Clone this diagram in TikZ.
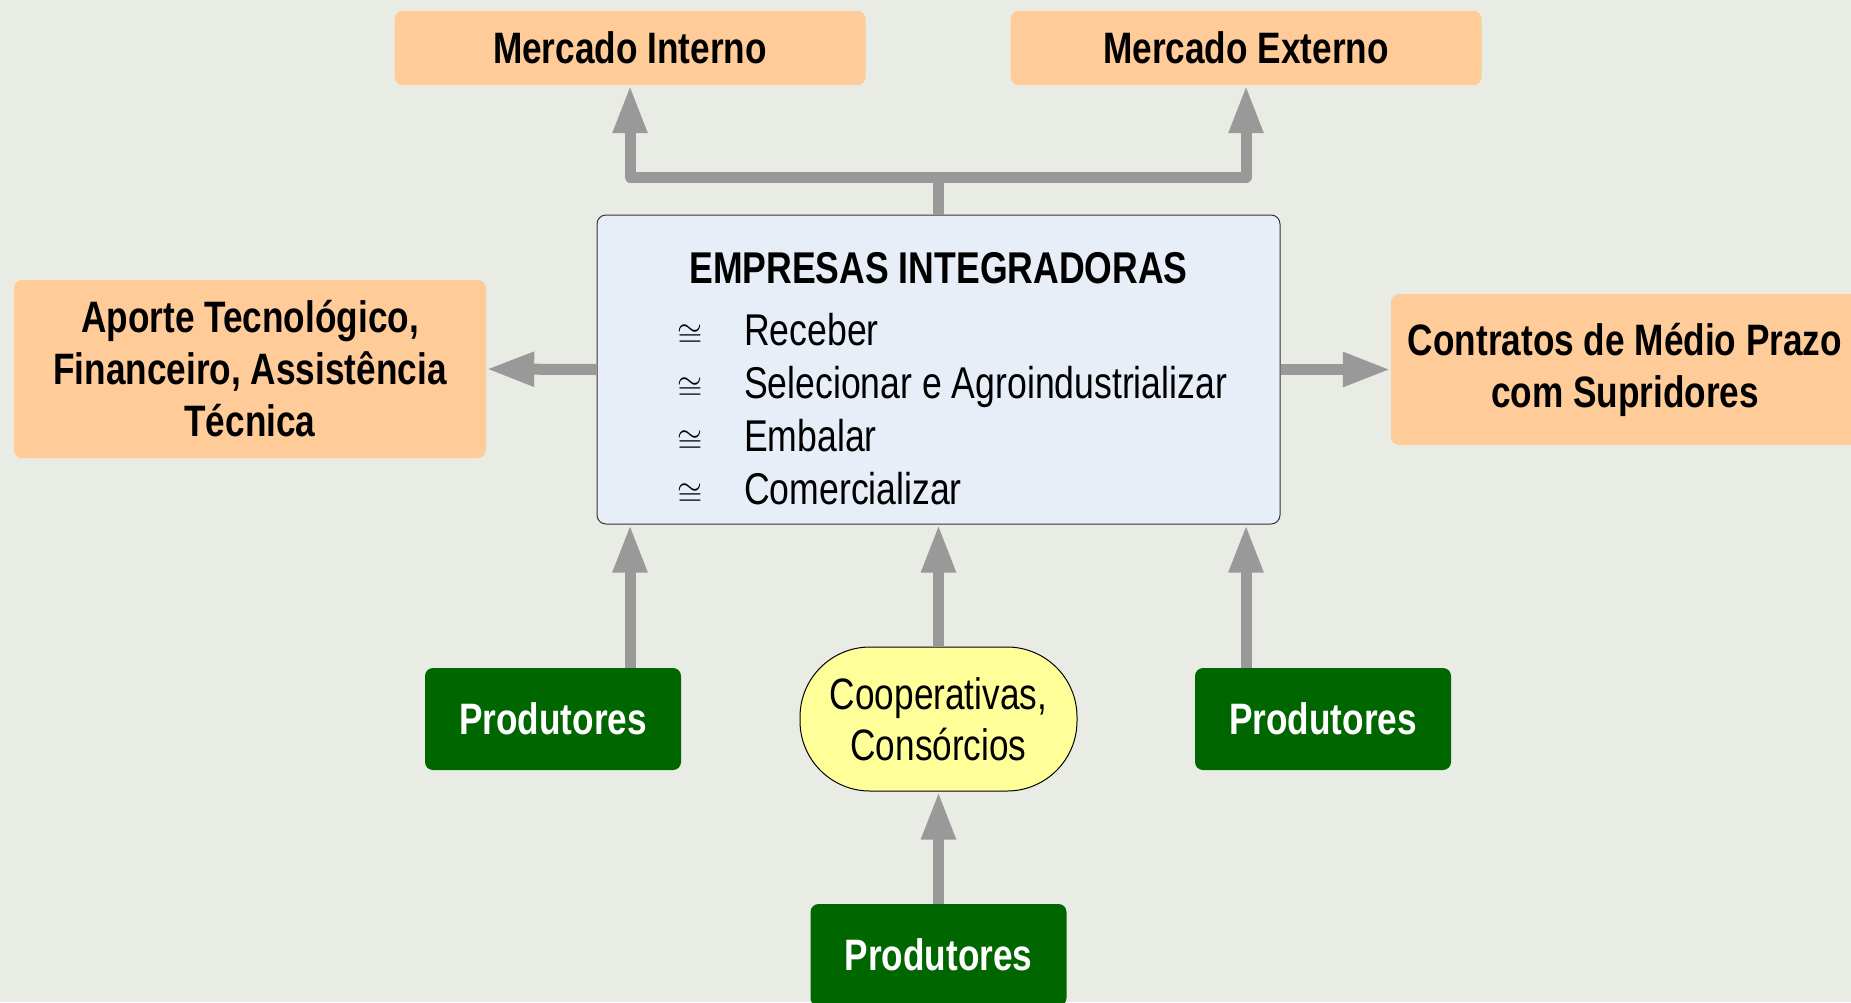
\documentclass[tikz,border=0pt]{standalone}
\usepackage{fontspec}
\setmainfont{Liberation Sans}[FakeStretch=0.8]
\usetikzlibrary{arrows.meta}
\definecolor{bgcol}{HTML}{E9ECE4}
\definecolor{peach}{HTML}{FFCC99}
\definecolor{dgreen}{HTML}{006600}
\definecolor{lyellow}{HTML}{FFFF99}
\definecolor{lblue}{HTML}{E8EEF8}
\definecolor{agray}{HTML}{999999}
\begin{document}
\begin{tikzpicture}[x=1pt,y=-1pt,
  box/.style={rectangle, rounded corners=8pt, inner sep=0pt, align=center},
  peachbox/.style={box, fill=peach, font=\bfseries\fontsize{44}{52}\selectfont},
  greenbox/.style={box, fill=dgreen, text=white, minimum width=256pt, minimum height=102pt, font=\bfseries\fontsize{44}{52}\selectfont},
  itemtext/.style={anchor=base west, inner sep=0pt, font=\fontsize{44.5}{52}\selectfont},
  itemsym/.style={anchor=base, inner sep=0pt, font=\fontsize{10}{12}\selectfont},
  conn/.style={draw=agray, line width=11pt, line join=round},
  arr/.style={conn, -{Triangle[length=48pt,width=32pt]}}
]
\useasboundingbox (0,0) rectangle (1851,1002);
\fill[bgcol] (0,0) rectangle (1851,1002);

% top
\node[peachbox, minimum width=471pt, minimum height=74pt] (mi) at (630,48) {Mercado Interno};
\node[peachbox, minimum width=471pt, minimum height=74pt] (me) at (1246,48) {Mercado Externo};

% central box
\node[box, fill=lblue, draw=black!80, line width=1pt, rounded corners=9pt, minimum width=683pt, minimum height=309pt] (emp) at (938.5,369.5) {};
\node[anchor=base, inner sep=0pt, font=\bfseries\fontsize{44.5}{54}\selectfont] (title) at (938.5,283) {EMPRESAS INTEGRADORAS};
\node[itemsym] (s1) at (690,345) {\scalebox{3.2}{$\cong$}};
\node[itemsym] (s2) at (690,398) {\scalebox{3.2}{$\cong$}};
\node[itemsym] (s3) at (690,451) {\scalebox{3.2}{$\cong$}};
\node[itemsym] (s4) at (690,504) {\scalebox{3.2}{$\cong$}};
\node[itemtext] (t1) at (744,345) {Receber};
\node[itemtext] (t2) at (744,398) {Selecionar e Agroindustrializar};
\node[itemtext] (t3) at (744,451) {Embalar};
\node[itemtext] (t4) at (744,504) {Comercializar};

% sides
\node[peachbox, minimum width=472pt, minimum height=178pt] (ap) at (250,369) {Aporte Tecnológico,\\Financeiro, Assistência\\Técnica};
\node[peachbox, minimum width=468pt, minimum height=151pt] (ct) at (1625,369.5) {Contratos de Médio Prazo\\com Supridores};

% bottom
\node[greenbox] (pl) at (553,719) {Produtores};
\node[greenbox] (pr) at (1323,719) {Produtores};
\node[greenbox] (pb) at (938.5,955) {Produtores};
\node[box, fill=lyellow, draw=black, line width=1pt, rounded corners=70pt, minimum width=277pt, minimum height=144pt, font=\fontsize{44}{51}\selectfont] (coop) at (938.5,719) {Cooperativas,\\Consórcios};

% connectors
\coordinate (j) at (938.5,177);
\draw[conn] (emp.north) -- (j);
\draw[arr] (j) -| (mi.south);
\draw[arr] (j) -| (me.south);
\draw[arr] (emp.west) -- (ap.east);
\draw[arr] (emp.east) -- (ct.west);
\draw[arr] (pl.north -| mi.south) -- (emp.south -| mi.south);
\draw[arr] (pr.north -| me.south) -- (emp.south -| me.south);
\draw[arr] (coop.north) -- (emp.south);
\draw[arr] (pb.north) -- (coop.south);
\end{tikzpicture}
\end{document}
